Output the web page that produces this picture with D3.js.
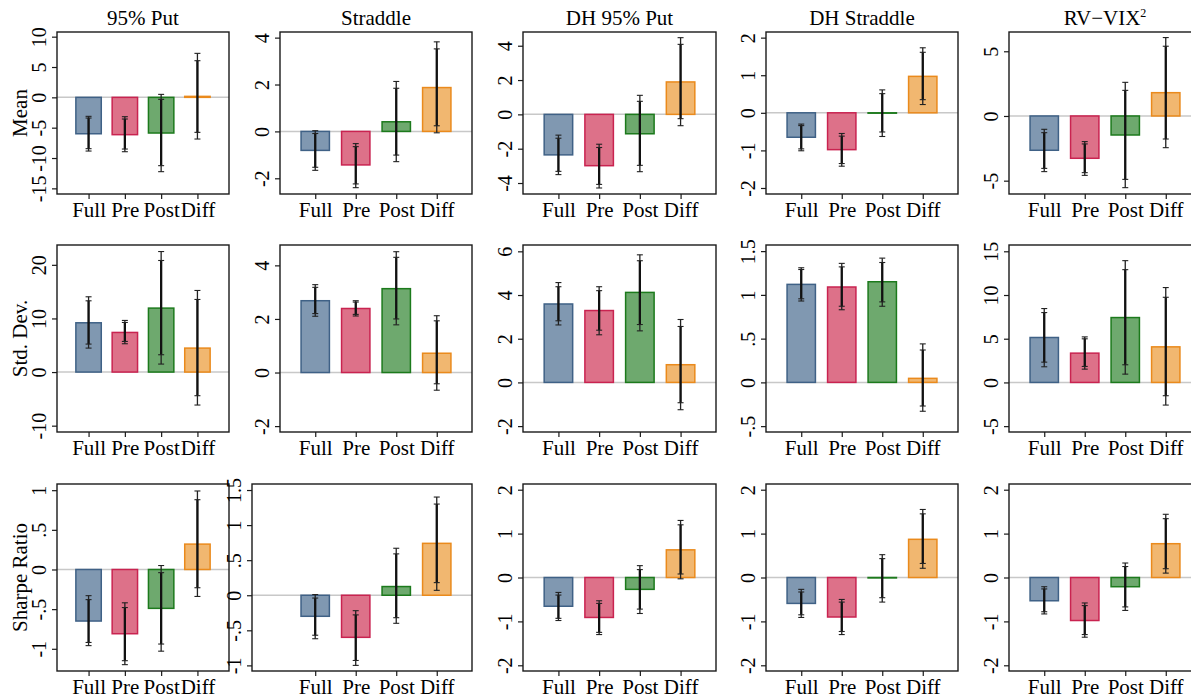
<!DOCTYPE html>
<html>
<head>
<meta charset="utf-8">
<script src="https://cdn.jsdelivr.net/npm/d3@7"></script>
<style>
    body { margin: 0; background: #fff; }
    svg text { font-family: "Liberation Serif", "Times New Roman", serif; fill: #000; }
</style>
</head>
<body>
<script>
// categories
var groups = ["Full", "Pre", "Post", "Diff"];
var strategies = ["95% Put", "Straddle", "DH 95% Put", "DH Straddle", "RV\u2212VIX"];
var statNames = ["Mean", "Std. Dev.", "Sharpe Ratio"];

// Mean row: estimates, outer (95%) and inner (90%) intervals
var meanEst = [
    [-6.0, -6.15, -5.88, 0.16],
    [-0.81, -1.43, 0.41, 1.87],
    [-2.36, -2.99, -1.13, 1.89],
    [-0.65, -0.98, -0.01, 0.97],
    [-2.65, -3.27, -1.47, 1.80]
];
var meanCI95 = [
    [[-8.85, -3.13], [-8.96, -3.19], [-12.25, 0.49], [-6.87, 7.25]],
    [[-1.66, 0.03], [-2.40, -0.52], [-1.29, 2.13], [-0.06, 3.82]],
    [[-3.51, -1.21], [-4.29, -1.74], [-3.34, 1.11], [-0.66, 4.47]],
    [[-1.01, -0.30], [-1.42, -0.55], [-0.63, 0.61], [0.22, 1.73]],
    [[-4.30, -1.03], [-4.59, -1.98], [-5.54, 2.60], [-2.45, 6.06]]
];
var meanCI90 = [
    [[-8.46, -3.41], [-8.52, -3.57], [-11.26, -0.33], [-5.77, 6.04]],
    [[-1.53, -0.09], [-2.24, -0.65], [-1.01, 1.84], [0.24, 3.52]],
    [[-3.32, -1.39], [-4.08, -1.93], [-2.97, 0.76], [-0.25, 4.08]],
    [[-0.96, -0.34], [-1.35, -0.62], [-0.51, 0.51], [0.35, 1.61]],
    [[-4.05, -1.29], [-4.38, -2.16], [-4.90, 1.98], [-1.78, 5.39]]
];

// Std. Dev. row
var sdEst = [
    [9.19, 7.39, 11.93, 4.47],
    [2.68, 2.39, 3.13, 0.72],
    [3.59, 3.29, 4.12, 0.81],
    [1.12, 1.09, 1.15, 0.046],
    [5.14, 3.35, 7.42, 4.07]
];
var sdCI95 = [
    [[4.47, 14.04], [5.28, 9.63], [1.49, 22.48], [-6.15, 15.22]],
    [[2.10, 3.28], [2.11, 2.68], [1.78, 4.51], [-0.66, 2.12]],
    [[2.63, 4.57], [2.18, 4.38], [2.36, 5.84], [-1.25, 2.88]],
    [[0.93, 1.31], [0.83, 1.36], [0.87, 1.42], [-0.33, 0.44]],
    [[1.79, 8.45], [1.52, 5.21], [0.95, 13.93], [-2.59, 10.85]]
];
var sdCI90 = [
    [[5.22, 13.29], [5.71, 9.25], [3.23, 20.81], [-4.41, 13.54]],
    [[2.20, 3.18], [2.17, 2.63], [2.00, 4.30], [-0.42, 1.93]],
    [[2.82, 4.38], [2.39, 4.20], [2.65, 5.57], [-0.93, 2.56]],
    [[0.955, 1.29], [0.87, 1.32], [0.92, 1.37], [-0.27, 0.37]],
    [[2.32, 7.99], [1.83, 4.99], [2.02, 12.90], [-1.52, 9.74]]
];

// Sharpe Ratio row
var srEst = [
    [-0.65, -0.81, -0.49, 0.32],
    [-0.30, -0.60, 0.124, 0.74],
    [-0.655, -0.91, -0.27, 0.63],
    [-0.59, -0.90, -0.01, 0.87],
    [-0.53, -0.98, -0.21, 0.77]
];
var srCI95 = [
    [[-0.96, -0.33], [-1.20, -0.42], [-1.03, 0.05], [-0.34, 0.99]],
    [[-0.62, 0.01], [-1.00, -0.22], [-0.40, 0.67], [0.07, 1.40]],
    [[-0.98, -0.34], [-1.30, -0.53], [-0.82, 0.27], [-0.03, 1.30]],
    [[-0.91, -0.27], [-1.30, -0.50], [-0.56, 0.52], [0.21, 1.55]],
    [[-0.83, -0.21], [-1.36, -0.58], [-0.75, 0.33], [0.10, 1.44]]
];
var srCI90 = [
    [[-0.92, -0.38], [-1.15, -0.48], [-0.94, -0.04], [-0.23, 0.88]],
    [[-0.57, -0.04], [-0.93, -0.28], [-0.32, 0.59], [0.18, 1.30]],
    [[-0.93, -0.40], [-1.25, -0.59], [-0.72, 0.18], [0.08, 1.20]],
    [[-0.85, -0.33], [-1.23, -0.56], [-0.46, 0.43], [0.32, 1.45]],
    [[-0.78, -0.26], [-1.30, -0.64], [-0.67, 0.25], [0.20, 1.34]]
];

// y tick labels and axis ranges for each panel
var meanTicks = [[-15, -10, -5, 0, 5, 10], [-2, 0, 2, 4], [-4, -2, 0, 2, 4], [-2, -1, 0, 1, 2], [-5, 0, 5]];
var sdTicks = [[-10, 0, 10, 20], [-2, 0, 2, 4], [-2, 0, 2, 4, 6], [-0.5, 0, 0.5, 1, 1.5], [-5, 0, 5, 10, 15]];
var srTicks = [[-1, -0.5, 0, 0.5, 1], [-1, -0.5, 0, 0.5, 1, 1.5], [-2, -1, 0, 1, 2], [-2, -1, 0, 1, 2], [-2, -1, 0, 1, 2]];
var meanRange = [[-15.93, 10.77], [-2.67, 4.24], [-4.64, 4.80], [-2.16, 2.15], [-6.03, 6.49]];
var sdRange = [[-11.18, 23.7], [-2.22, 4.76], [-2.27, 6.29], [-0.567, 1.57], [-5.67, 15.72]];
var srRange = [[-1.28, 1.078], [-1.08, 1.586], [-2.13, 2.13], [-2.13, 2.13], [-2.13, 2.13]];

function init() {

    var W = 1191, H = 698;
    var fills = ["#8098b1", "#dd7189", "#6ea96e", "#f1b770"];
    var strokes = ["#3f6186", "#c92350", "#1c7a1c", "#ea8a1c"];

    // panel frames
    var colLeft = [57, 280, 523, 766, 1009];
    var colRight = [229, 472, 716, 958, 1201];
    var rowTop = [32, 245, 484];
    var rowBottom = [194, 432, 671];

    var rows = [
        { est: meanEst, ci95: meanCI95, ci90: meanCI90, ticks: meanTicks, range: meanRange },
        { est: sdEst, ci95: sdCI95, ci90: sdCI90, ticks: sdTicks, range: sdRange },
        { est: srEst, ci95: srCI95, ci90: srCI90, ticks: srTicks, range: srRange }
    ];

    var svg = d3.select("body")
        .append("svg")
        .attr("width", W)
        .attr("height", H);

    function fmt(v) {
        return String(v).replace("0.", ".");
    }

    rows.forEach(function(row, r) {
        for (var c = 0; c < 5; c++) {
            var left = colLeft[c];
            var right = colRight[c];
            var xDomain = [0.13, 4.87];
            // this panel's box reaches further left in the original
            if (r === 2 && c === 1) {
                left = 252;
                xDomain = [-0.56, 4.87];
            }
            var top = rowTop[r], bottom = rowBottom[r];

            var x = d3.scaleLinear().domain(xDomain).range([left, right]);
            var y = d3.scaleLinear().domain(row.range[c]).range([bottom, top]);

            var g = svg.append("g");

            // zero line
            g.append("line")
                .attr("x1", left).attr("x2", right)
                .attr("y1", y(0)).attr("y2", y(0))
                .attr("stroke", "#c8c8c8")
                .attr("stroke-width", 1.5);

            // bars
            g.selectAll("rect.bar")
                .data(row.est[c])
                .enter()
                .append("rect")
                .attr("class", "bar")
                .attr("x", function(d, i) { return x(i + 1 - 0.35); })
                .attr("width", function(d, i) { return x(i + 1.35) - x(i + 0.65); })
                .attr("y", function(d) { return y(Math.max(d, 0)); })
                .attr("height", function(d) { return Math.abs(y(d) - y(0)); })
                .attr("fill", function(d, i) { return fills[i]; })
                .attr("stroke", function(d, i) { return strokes[i]; })
                .attr("stroke-width", 1.5);

            // error bars: thin line for the wide interval, thick for the narrow one
            var ci95 = row.ci95[c], ci90 = row.ci90[c];
            groups.forEach(function(name, i) {
                var cx = x(i + 1);
                g.append("line")
                    .attr("x1", cx).attr("x2", cx)
                    .attr("y1", y(ci95[i][0])).attr("y2", y(ci95[i][1]))
                    .attr("stroke", "#222").attr("stroke-width", 1.3);
                g.append("line")
                    .attr("x1", cx).attr("x2", cx)
                    .attr("y1", y(ci90[i][0])).attr("y2", y(ci90[i][1]))
                    .attr("stroke", "#111").attr("stroke-width", 2.3);
                [ci95[i][0], ci95[i][1], ci90[i][0], ci90[i][1]].forEach(function(v) {
                    g.append("line")
                        .attr("x1", cx - 3).attr("x2", cx + 3)
                        .attr("y1", y(v)).attr("y2", y(v))
                        .attr("stroke", "#222").attr("stroke-width", 1.1);
                });
            });

            // frame
            g.append("rect")
                .attr("x", left).attr("y", top)
                .attr("width", right - left).attr("height", bottom - top)
                .attr("fill", "none")
                .attr("stroke", "#1a1a1a")
                .attr("stroke-width", 1.4);

            // y axis with rotated labels
            var yAxis = g.append("g")
                .attr("transform", "translate(" + left + ",0)")
                .call(d3.axisLeft(y).tickValues(row.ticks[c]).tickFormat(fmt).tickSize(5));
            yAxis.select(".domain").remove();
            yAxis.selectAll("line").attr("stroke", "#1a1a1a").attr("stroke-width", 1.2);
            yAxis.selectAll("text")
                .attr("transform", "rotate(-90)")
                .attr("x", 0).attr("y", -11).attr("dy", 0)
                .attr("text-anchor", "middle")
                .attr("font-size", 20);

            // x axis
            var xAxis = g.append("g")
                .attr("transform", "translate(0," + bottom + ")")
                .call(d3.axisBottom(x).tickValues([1, 2, 3, 4])
                    .tickFormat(function(d) { return groups[d - 1]; }).tickSize(5));
            xAxis.select(".domain").remove();
            xAxis.selectAll("line").attr("stroke", "#1a1a1a").attr("stroke-width", 1.2);
            xAxis.selectAll("text")
                .attr("y", 23).attr("dy", 0)
                .attr("font-size", 21);

            // column titles
            if (r === 0) {
                var t = g.append("text")
                    .attr("x", (left + right) / 2)
                    .attr("y", 25)
                    .attr("text-anchor", "middle")
                    .attr("font-size", 21)
                    .text(strategies[c]);
                if (c === 4) {
                    t.append("tspan").attr("dy", -8).attr("font-size", 12).text("2");
                }
            }

            // row titles
            if (c === 0) {
                g.append("text")
                    .attr("transform", "translate(27," + (top + bottom) / 2 + ") rotate(-90)")
                    .attr("text-anchor", "middle")
                    .attr("font-size", 21)
                    .text(statNames[r]);
            }
        }
    });
}

window.onload = init;
</script>
</body>
</html>
